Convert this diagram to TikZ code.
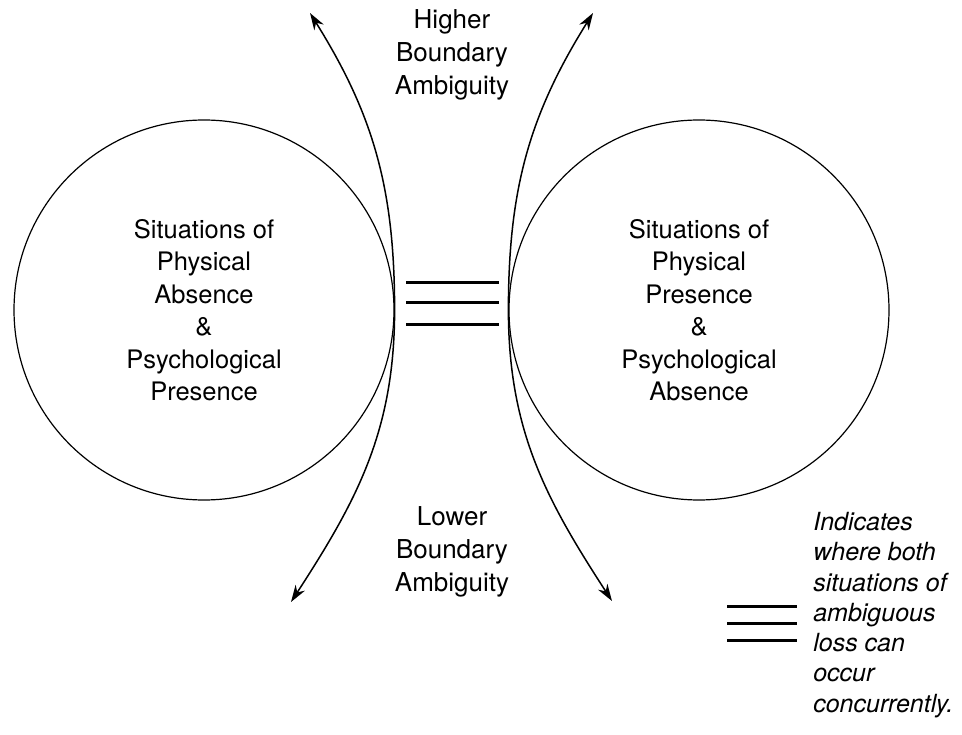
\documentclass[tikz,border=0pt]{standalone}
\usepackage{fontspec}
\setmainfont{TeX Gyre Heros}
\usepackage{tikz}
\usetikzlibrary{arrows.meta}

\begin{document}
\begin{tikzpicture}[x=1pt, y=1pt, >={Stealth[length=17pt,width=11pt]}, semithick]
    \tikzstyle{situation}=[draw=black, circle, line width=1.2pt, minimum size=380pt, inner sep=0pt, align=center, font=\fontsize{25.5}{32.5}\selectfont]
    \tikzstyle{boundary}=[align=center, font=\fontsize{26}{33}\selectfont]
    \tikzstyle{legendtext}=[align=left, inner sep=0pt, font=\fontsize{25}{30.3}\selectfont\itshape]
    \tikzstyle{bar}=[line width=3pt]
    \tikzstyle{swing}=[<->, line width=1.5pt]

    \useasboundingbox (0,0) rectangle (962,-735);

    % Los dos circulos
    \node[situation] (absence)  at (204,-310) {Situations of\\Physical\\Absence\\\&\\Psychological\\Presence};
    \node[situation] (presence) at (699,-310) {Situations of\\Physical\\Presence\\\&\\Psychological\\Absence};

    % Textos de ambiguedad
    \node[boundary]  (higher)   at (452,-55)  {Higher\\Boundary\\Ambiguity};
    \node[boundary]  (lower)    at (452,-552) {Lower\\Boundary\\Ambiguity};

    % Puntas de las curvas
    \coordinate (lefttop)  at (310,-13);
    \coordinate (leftbot)  at (291,-602);
    \coordinate (righttop) at (593,-13);
    \coordinate (rightbot) at (612,-601);

    \draw[swing] (leftbot)  to[out=57,  in=-90] (absence.east)  to[out=90, in=-58]  (lefttop);
    \draw[swing] (rightbot) to[out=123, in=-90] (presence.west) to[out=90, in=-122] (righttop);

    % Rayas del medio
    \foreach \y in {283,303,325}
        \draw[bar] (406,-\y) -- (499,-\y);

    % Leyenda
    \foreach \y in {606,623,640}
        \draw[bar] (727,-\y) -- (797,-\y);
    \node[legendtext, anchor=west] (legend) at (813,-615) {Indicates\\where both\\situations of\\ambiguous\\loss can\\occur\\concurrently.};
\end{tikzpicture}
\end{document}
